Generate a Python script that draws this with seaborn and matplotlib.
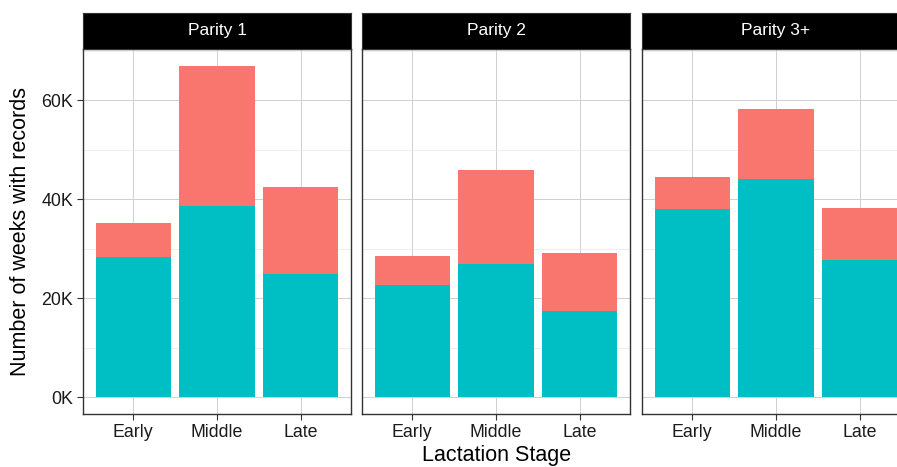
import numpy as np
import pandas as pd
import matplotlib
matplotlib.use('Agg')
import matplotlib.pyplot as plt
from matplotlib.ticker import FuncFormatter, MultipleLocator
import seaborn as sns

# ---- data ----
stages = ['Early', 'Middle', 'Late']
parities = ['Parity 1', 'Parity 2', 'Parity 3+']

# lower (teal) part of each stack
lower_p1 = [28400, 38700, 25000]
lower_p2 = [22700, 27000, 17500]
lower_p3 = [38000, 44200, 27700]

# upper (salmon) part of each stack
upper_p1 = [6800, 28300, 17500]
upper_p2 = [5900, 18900, 11700]
upper_p3 = [6500, 14100, 10500]

lower = [lower_p1, lower_p2, lower_p3]
upper = [upper_p1, upper_p2, upper_p3]

rows = []
for p, lo, up in zip(parities, lower, upper):
    for s, a, b in zip(stages, lo, up):
        rows.append({'parity': p, 'stage': s, 'lower': a, 'total': a + b})
df = pd.DataFrame(rows)

TEAL = '#00BFC4'
SALMON = '#F8766D'

sns.set_style('white')
plt.rcParams['font.family'] = ['Liberation Sans', 'DejaVu Sans']

W, H = 897, 467
fig = plt.figure(figsize=(W / 100, H / 100), dpi=100)

panel_left = [83, 362, 642]
panel_w = 268
top_px, bot_px = 49, 414
strip_top = 13

for i, p in enumerate(parities):
    x0 = panel_left[i] / W
    ax = fig.add_axes([x0, (H - bot_px) / H, panel_w / W, (bot_px - top_px) / H])
    sub = df[df['parity'] == p]
    sns.barplot(data=sub, x='stage', y='total', order=stages, color=SALMON,
                saturation=1, width=0.9, ax=ax, errorbar=None, linewidth=0)
    sns.barplot(data=sub, x='stage', y='lower', order=stages, color=TEAL,
                saturation=1, width=0.9, ax=ax, errorbar=None, linewidth=0)
    ax.set_xlim(-0.6, 2.6)
    ax.set_ylim(-3350, 70350)
    ax.yaxis.set_major_locator(MultipleLocator(20000))
    ax.yaxis.set_minor_locator(MultipleLocator(10000))
    ax.set_axisbelow(True)
    ax.grid(True, which='major', color='#cfcfcf', linewidth=0.7)
    ax.grid(True, which='minor', axis='y', color='#e8e8e8', linewidth=0.5)
    for sp in ax.spines.values():
        sp.set_visible(True)
        sp.set_color('#333333')
        sp.set_linewidth(1.0)
    ax.set_xlabel('')
    ax.set_ylabel('')
    ax.tick_params(axis='x', length=4, width=0.8, color='#333333',
                   labelsize=12.8, labelcolor='#1a1a1a', pad=3, bottom=True)
    ax.tick_params(axis='y', which='minor', length=0)
    if i == 0:
        ax.yaxis.set_major_formatter(FuncFormatter(lambda v, _: f'{int(v / 1000)}K'))
        ax.tick_params(axis='y', which='major', length=4, width=0.8, color='#333333',
                       labelsize=12.8, labelcolor='#1a1a1a', pad=3, left=True)
    else:
        ax.tick_params(axis='y', which='major', length=0, labelleft=False)

    # facet strip
    sax = fig.add_axes([x0, (H - top_px) / H, panel_w / W, (top_px - strip_top) / H])
    sax.set_facecolor('black')
    sax.set_xticks([])
    sax.set_yticks([])
    for sp in sax.spines.values():
        sp.set_color('#333333')
    sax.text(0.5, 0.5, p, color='white', fontsize=12.5, ha='center', va='center',
             transform=sax.transAxes)

fig.text(497 / W, (H - 456) / H, 'Lactation Stage', ha='center', va='center',
         fontsize=15.5, color='black')
fig.text(21 / W, (H - 231) / H, 'Number of weeks with records', ha='center',
         va='center', rotation=90, fontsize=15.5, color='black')

fig.savefig('out.png', dpi=100)
